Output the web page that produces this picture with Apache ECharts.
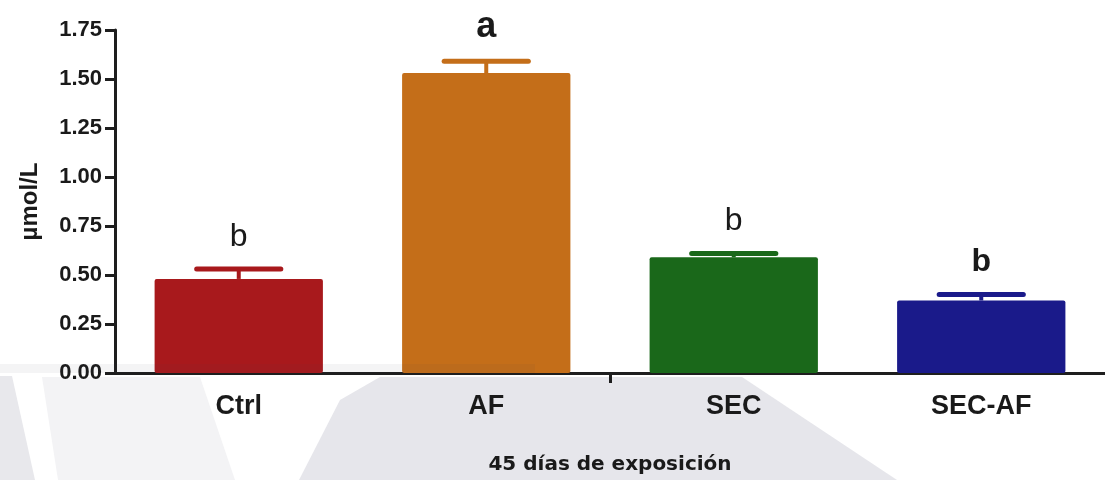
<!DOCTYPE html>
<html>
<head>
<meta charset="utf-8">
<title>µmol/L – 45 días de exposición</title>
<script src="https://cdn.jsdelivr.net/npm/echarts@6/dist/echarts.min.js"></script>
<style>
  html, body { margin: 0; padding: 0; background: #ffffff; }
  #chart { width: 1105px; height: 480px; }
</style>
</head>
<body>
<div id="chart"></div>
<script>
// Groups, means and SEM
const categories = ['Ctrl', 'AF', 'SEC', 'SEC-AF'];
const means = [0.48, 1.53, 0.59, 0.37];
const errors = [0.05, 0.06, 0.02, 0.03];
const barColors = ['#a8191c', '#c46e19', '#1a681a', '#1a1a8a'];
// Significance letters above each bar
const letters = ['b', 'a', 'b', 'b'];
const letterBold = [false, true, false, true];
const yTicks = { min: 0, max: 1.75, step: 0.25 };

const FONT = '"Liberation Sans", Arial, Helvetica, sans-serif';
const AXIS_COLOR = '#1e1e1e';

const chart = echarts.init(document.getElementById('chart'), null, { renderer: 'canvas' });

const barData = means.map((v, i) => ({
  value: v,
  itemStyle: { color: barColors[i] }
}));

const errData = means.map((v, i) => [i, v, errors[i], letters[i], letterBold[i] ? 1 : 0]);

function renderError(params, api) {
  const i = api.value(0);
  const mean = api.value(1);
  const err = api.value(2);
  const letter = api.value(3);
  const bold = api.value(4) === 1;
  const top = api.coord([i, mean]);
  const cap = api.coord([i, mean + err]);
  const band = api.size([1, 0])[0];
  const half = band * 0.68 * 0.25;
  const color = barColors[i];
  return {
    type: 'group',
    children: [
      {
        type: 'line',
        shape: { x1: cap[0], y1: top[1], x2: cap[0], y2: cap[1] },
        style: { stroke: color, lineWidth: 4 }
      },
      {
        type: 'line',
        shape: { x1: cap[0] - half, y1: cap[1], x2: cap[0] + half, y2: cap[1] },
        style: { stroke: color, lineWidth: 5, lineCap: 'round' }
      },
      {
        type: 'text',
        x: cap[0],
        y: cap[1] - 16,
        style: {
          text: letter,
          fill: '#1a1a1a',
          font: (bold ? 'bold ' : '') + (letter === 'a' ? 36 : 32) + 'px ' + FONT,
          align: 'center',
          verticalAlign: 'bottom'
        }
      }
    ]
  };
}

const option = {
  backgroundColor: '#ffffff',
  animation: false,
  graphic: [
    // faint grey shapes in the lower background
    { type: 'polygon', z: -10, silent: true,
      shape: { points: [[0, 376], [12, 376], [35, 480], [0, 480]] },
      style: { fill: '#e8e8ec' } },
    { type: 'polygon', z: -10, silent: true,
      shape: { points: [[42, 377], [200, 377], [235, 480], [58, 480]] },
      style: { fill: '#f3f3f5' } },
    { type: 'polygon', z: -10, silent: true,
      shape: { points: [[299, 480], [340, 400], [380, 377], [742, 377], [897, 480]] },
      style: { fill: '#e6e6eb' } },
    { type: 'rect', z: 100, silent: true,
      shape: { x: 0, y: 364, width: 535, height: 9 },
      style: { fill: 'rgba(70,70,90,0.06)' } }
  ],
  grid: {
    left: 115,
    right: -2,
    top: 30,
    bottom: 106,
    containLabel: false
  },
  xAxis: [
    {
      type: 'category',
      data: categories,
      name: '45 días de exposición',
      nameLocation: 'middle',
      nameGap: 82,
      nameTextStyle: {
        fontFamily: '"DejaVu Sans", sans-serif',
        fontWeight: 'bold',
        fontSize: 20,
        color: '#1a1a1a'
      },
      axisLine: { show: true, lineStyle: { color: AXIS_COLOR, width: 3 } },
      axisTick: { show: false },
      axisLabel: {
        margin: 20,
        fontFamily: FONT,
        fontWeight: 'bold',
        fontSize: 27,
        color: '#1a1a1a'
      },
      splitLine: { show: false }
    },
    {
      // companion axis carrying the single centre tick between AF and SEC
      type: 'value',
      position: 'bottom',
      min: 0,
      max: categories.length,
      axisLine: { show: false },
      axisTick: {
        show: true,
        length: 10,
        customValues: [categories.length / 2],
        lineStyle: { color: AXIS_COLOR, width: 3 }
      },
      axisLabel: { show: false },
      splitLine: { show: false }
    }
  ],
  yAxis: {
    type: 'value',
    min: yTicks.min,
    max: yTicks.max,
    interval: yTicks.step,
    name: 'µmol/L',
    nameLocation: 'middle',
    nameGap: 73,
    nameRotate: 90,
    nameTextStyle: {
      fontFamily: FONT,
      fontWeight: 'bold',
      fontSize: 24,
      color: '#1a1a1a'
    },
    axisLine: { show: true, lineStyle: { color: AXIS_COLOR, width: 3 } },
    axisTick: { show: true, length: 10, lineStyle: { color: AXIS_COLOR, width: 3 } },
    axisLabel: {
      margin: 13,
      fontFamily: FONT,
      fontWeight: 'bold',
      fontSize: 22,
      color: '#1a1a1a',
      formatter: function (v) { return v.toFixed(2); }
    },
    splitLine: { show: false }
  },
  series: [
    {
      type: 'bar',
      data: barData,
      barCategoryGap: '32%',
      itemStyle: { borderRadius: 2 },
      z: 2
    },
    {
      type: 'custom',
      data: errData,
      encode: { x: 0, y: 1 },
      renderItem: renderError,
      z: 3
    }
  ]
};

chart.setOption(option);
</script>
</body>
</html>
